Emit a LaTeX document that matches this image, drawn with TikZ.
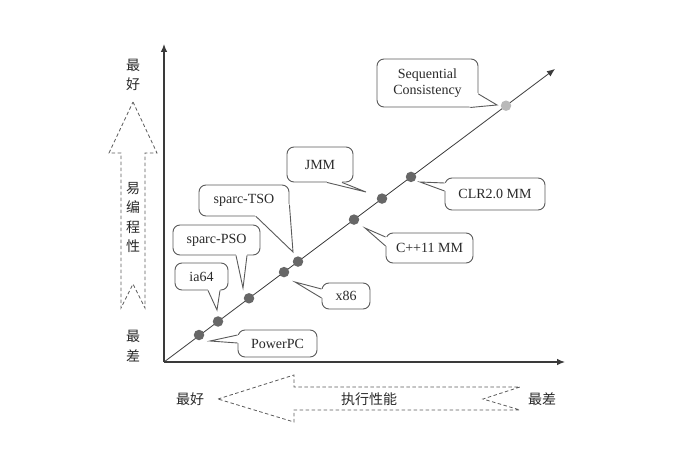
\documentclass[tikz,border=0pt]{standalone}
\usepackage{fontspec}
\setmainfont{Liberation Serif}
\newfontfamily\cjk{Noto Sans CJK SC}
\usetikzlibrary{arrows.meta,calc}

\definecolor{axisgray}{HTML}{3A3A3A}
\definecolor{boxgray}{HTML}{5A5A5A}
\definecolor{dotgray}{HTML}{676767}
\definecolor{dotlight}{HTML}{B9B9B9}
\definecolor{textdark}{HTML}{2A2A2A}

% pointer of a callout: base point, tip, base point, inward shift
\newcommand\calloutpointer[4]{%
  \fill[white] (#1) -- (#2) -- (#3) -- ($(#3)+(#4)$) -- ($(#1)+(#4)$) -- cycle;
  \draw[boxline] (#1) -- (#2) -- (#3);
}

\begin{document}
\begin{tikzpicture}[x=1bp,y=-1bp,
  axis/.style={draw=axisgray, line width=1.1bp, -{Latex[length=8bp,width=6.5bp]}},
  diag/.style={draw=axisgray, line width=0.8bp, -{Latex[length=8bp,width=6.5bp]}},
  callbox/.style={draw=boxgray, line width=0.9bp, rounded corners=7bp, fill=white,
    inner sep=0pt, align=center, text=textdark,
    font=\fontsize{14bp}{16.5bp}\selectfont},
  boxline/.style={draw=boxgray, line width=0.9bp, line join=miter},
  dotdark/.style={circle, fill=dotgray, minimum size=10.5bp, inner sep=0pt},
  dotpale/.style={circle, fill=dotlight, minimum size=10.5bp, inner sep=0pt},
  dasharrow/.style={draw=boxgray, line width=0.8bp, dash pattern=on 3.5bp off 2.5bp, line join=miter},
  cjklabel/.style={align=center, inner sep=0pt, text=textdark,
    font=\cjk\fontsize{14bp}{19.5bp}\selectfont},
]
\useasboundingbox (0,0) rectangle (698,474);

% axes and the diagonal
\coordinate (O) at (164,362);
\coordinate (ytop) at (164,44);
\coordinate (xend) at (565,362);
\coordinate (dend) at (555,69);
\draw[axis] (O) -- (ytop);
\draw[axis] (O) -- (xend);
\draw[diag] (O) -- (dend);

% vertical hollow arrow: ease of programming
\coordinate (va-tip) at (133,102);
\coordinate (va-hr) at (157,153);
\coordinate (va-sr) at (145,153);
\coordinate (va-br) at (145,308);
\coordinate (va-notch) at (133,284);
\coordinate (va-bl) at (121,308);
\coordinate (va-sl) at (121,153);
\coordinate (va-hl) at (109,153);
\draw[dasharrow] (va-tip) -- (va-hr) -- (va-sr) -- (va-br) -- (va-notch)
  -- (va-bl) -- (va-sl) -- (va-hl) -- cycle;

% horizontal hollow arrow: performance
\coordinate (ha-tip) at (218,399);
\coordinate (ha-ht) at (294,375);
\coordinate (ha-st) at (294,387);
\coordinate (ha-et) at (520,387);
\coordinate (ha-notch) at (483,399);
\coordinate (ha-eb) at (520,410);
\coordinate (ha-sb) at (294,410);
\coordinate (ha-hb) at (294,422);
\draw[dasharrow] (ha-tip) -- (ha-ht) -- (ha-st) -- (ha-et) -- (ha-notch)
  -- (ha-eb) -- (ha-sb) -- (ha-hb) -- cycle;

% axis labels
\node[cjklabel] (ybest) at (133,75) {最\\好};
\node[cjklabel] (yname) at (133,217.5) {易\\编\\程\\性};
\node[cjklabel] (yworst) at (133,346) {最\\差};
\node[cjklabel] (xbest) at (190,399) {最好};
\node[cjklabel] (xname) at (369,399) {执行性能};
\node[cjklabel] (xworst) at (542,399) {最差};

% models along the diagonal
\node[dotdark] (d-ppc) at (199,335) {};
\node[dotdark] (d-ia) at (218,321.5) {};
\node[dotdark] (d-pso) at (249,298.3) {};
\node[dotdark] (d-x86) at (284,272.1) {};
\node[dotdark] (d-tso) at (298,261.6) {};
\node[dotdark] (d-cpp) at (354,219.6) {};
\node[dotdark] (d-jmm) at (382,198.6) {};
\node[dotdark] (d-clr) at (411,176.9) {};
\node[dotpale] (d-sc) at (506,105.7) {};

% callout boxes
\node[callbox, minimum width=79bp, minimum height=27bp] (ppc) at (277.5,343.5) {PowerPC};
\node[callbox, minimum width=53bp, minimum height=27bp] (ia) at (201.5,276.5) {ia64};
\node[callbox, minimum width=87bp, minimum height=30bp] (pso) at (216.5,240) {sparc-PSO};
\node[callbox, minimum width=90bp, minimum height=31bp] (tso) at (244,200.5) {sparc-TSO};
\node[callbox, minimum width=66bp, minimum height=35bp] (jmm) at (320,164.5) {JMM};
\node[callbox, minimum width=48bp, minimum height=26bp] (x86) at (346,296) {x86};
\node[callbox, minimum width=87bp, minimum height=30bp] (cpp) at (429.5,248) {C++11 MM};
\node[callbox, minimum width=100bp, minimum height=32bp] (clr) at (495,194) {CLR2.0 MM};
\node[callbox, minimum width=101bp, minimum height=48bp] (sc) at (427.5,83) {Sequential\\Consistency};

% pointer tips
\coordinate (ppc-tip) at (210,341);
\coordinate (ia-tip) at (217,310);
\coordinate (pso-tip) at (243,288);
\coordinate (tso-tip) at (293,252);
\coordinate (jmm-tip) at (366,192);
\coordinate (x86-tip) at (295,282);
\coordinate (cpp-tip) at (365,228);
\coordinate (clr-tip) at (420,182);
\coordinate (sc-tip) at (497,105);

% callout pointers
\calloutpointer{$(ppc.west)+(0,-8.5)$}{ppc-tip}{$(ppc.west)+(0,-0.5)$}{2,0}
\calloutpointer{$(ia.south)+(6.5,0)$}{ia-tip}{$(ia.south)+(18.5,0)$}{0,-2}
\calloutpointer{$(pso.south)+(19.5,0)$}{pso-tip}{$(pso.south)+(30.5,0)$}{0,-2}
\calloutpointer{$(tso.south)+(12,0)$}{tso-tip}{$(tso.east)+(0,4.5)$}{-2,-2}
\calloutpointer{$(jmm.south)+(7,0)$}{jmm-tip}{$(jmm.south)+(22,0)$}{0,-2}
\calloutpointer{$(x86.west)+(0,-7)$}{x86-tip}{$(x86.west)+(0,2)$}{2,0}
\calloutpointer{$(cpp.west)+(0,-11)$}{cpp-tip}{$(cpp.west)+(0,-2)$}{2,0}
\calloutpointer{$(clr.west)+(0,-11)$}{clr-tip}{$(clr.west)+(0,-3)$}{2,0}
\calloutpointer{$(sc.east)+(0,11)$}{sc-tip}{$(sc.south east)+(-8,0)$}{-2,-2}

\end{tikzpicture}
\end{document}
